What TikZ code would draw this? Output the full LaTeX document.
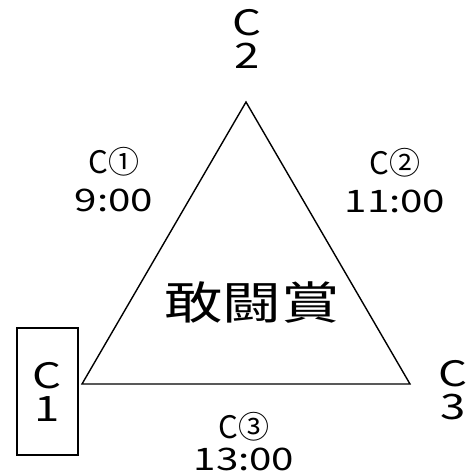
\documentclass[tikz,border=0pt]{standalone}
\usepackage{fontspec}
\setmainfont{Noto Sans CJK JP}
\newfontfamily\widejp[FakeStretch=1.3]{Noto Sans CJK JP}
\begin{document}
\begin{tikzpicture}[x=1pt,y=-1pt,
  team/.style={font=\widejp\fontsize{35}{33}\selectfont, align=center, inner sep=0pt},
  slot/.style={font=\fontsize{31}{38}\selectfont, align=center, inner sep=0pt},
  prize/.style={font=\widejp\fontsize{45}{45}\selectfont, inner sep=0pt}]
\useasboundingbox (0,0) rectangle (473,475);
\coordinate (top) at (246,102);
\coordinate (left) at (82,384);
\coordinate (right) at (410,384);
\draw[line width=1.4pt] (top) -- (left) -- (right) -- cycle;
\node[prize] (award) at (252,303) {敢闘賞};
\node[team] (c2) at (247,39) {C\\2};
\node[team, draw, line width=1.2pt, minimum width=61, minimum height=127, fill=white] (c1) at (47.5,391.5) {C\\1};
\node[team] (c3) at (453,390) {C\\3};
\node[slot] (g1) at (114,180) {C①\\{\widejp 9:00}};
\node[slot] (g2) at (395,181) {C②\\{\widejp 11:00}};
\node[slot, font=\fontsize{31}{32}\selectfont] (g3) at (244,442) {C③\\{\widejp 13:00}};
\end{tikzpicture}
\end{document}
